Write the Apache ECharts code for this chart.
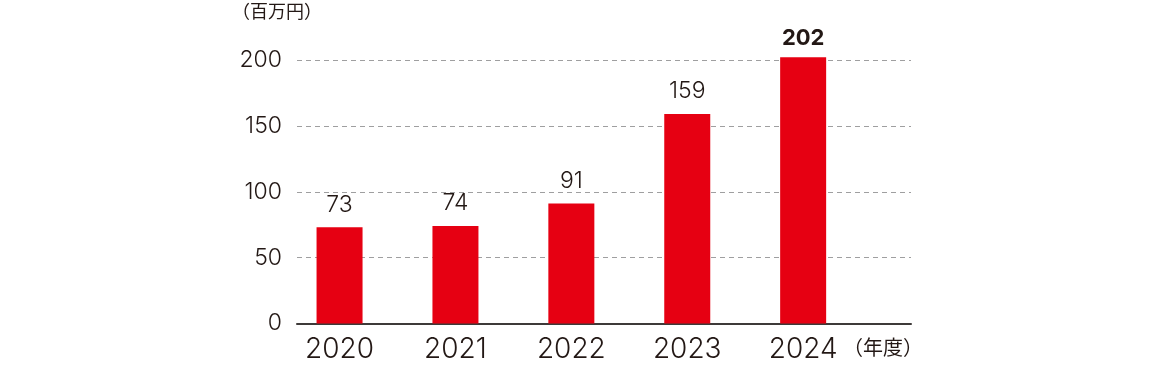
<!DOCTYPE html>
<html>
<head>
<meta charset="utf-8">
<script src="https://cdn.jsdelivr.net/npm/echarts@6/dist/echarts.min.js"></script>
<style>
html,body{margin:0;padding:0;background:#fff;}
#chart{width:1150px;height:370px;}
</style>
</head>
<body>
<div id="chart"></div>
<script>
var categories = ['2020', '2021', '2022', '2023', '2024'];
var values = [73, 74, 91, 159, 202];
var yTicks = [0, 50, 100, 150, 200];
var unitLabel = '（百万円）';
var yearLabel = '（年度）';

var textColor = '#231815';
var numFont = 'Inter, "Noto Sans", sans-serif';
var cjkFont = '"Noto Sans CJK JP", sans-serif';

var chart = echarts.init(document.getElementById('chart'), null, {renderer: 'canvas'});
chart.setOption({
  animation: false,
  grid: [
    {left: 297, right: 239, top: 60, bottom: 46.5},
    {left: 281.6, width: 579.5, top: 60, bottom: 46.5}
  ],
  xAxis: [
    {
      gridIndex: 0, type: 'value', min: 0, max: 1,
      axisLine: {show: true, lineStyle: {color: '#3e3a39', width: 2}},
      axisTick: {show: false}, axisLabel: {show: false}, splitLine: {show: false}
    },
    {
      gridIndex: 1, type: 'category', data: categories,
      axisLine: {show: false}, axisTick: {show: false},
      axisLabel: {color: textColor, fontSize: 28, fontFamily: numFont, fontWeight: 300, margin: 12}
    }
  ],
  yAxis: [
    {
      gridIndex: 0, type: 'value', min: yTicks[0], max: yTicks[yTicks.length - 1], interval: yTicks[1] - yTicks[0],
      axisLine: {show: false}, axisTick: {show: false},
      axisLabel: {color: textColor, fontSize: 23, fontFamily: numFont, fontWeight: 300, margin: 15},
      splitLine: {show: true, lineStyle: {color: '#9f9fa0', type: [5, 4], width: 1.2}}
    },
    {
      gridIndex: 1, type: 'value', min: yTicks[0], max: yTicks[yTicks.length - 1],
      show: false, splitLine: {show: false}
    }
  ],
  series: [{
    type: 'bar', xAxisIndex: 1, yAxisIndex: 1,
    clip: false,
    data: values.map(function (v, i) {
      var last = i === values.length - 1;
      return {
        value: v,
        label: {fontWeight: last ? 'bold' : 300, fontSize: last ? 22 : 23, distance: last ? 8 : 11}
      };
    }),
    barWidth: 46,
    itemStyle: {color: '#e60012'},
    label: {show: true, position: 'top', color: textColor, fontFamily: numFont}
  }],
  graphic: [
    {type: 'text', left: 232, top: 2, style: {text: unitLabel, fill: textColor, font: '18px ' + cjkFont}},
    {type: 'text', left: 843, top: 337, style: {text: yearLabel, fill: textColor, font: '20px ' + cjkFont}}
  ]
});
</script>
</body>
</html>
